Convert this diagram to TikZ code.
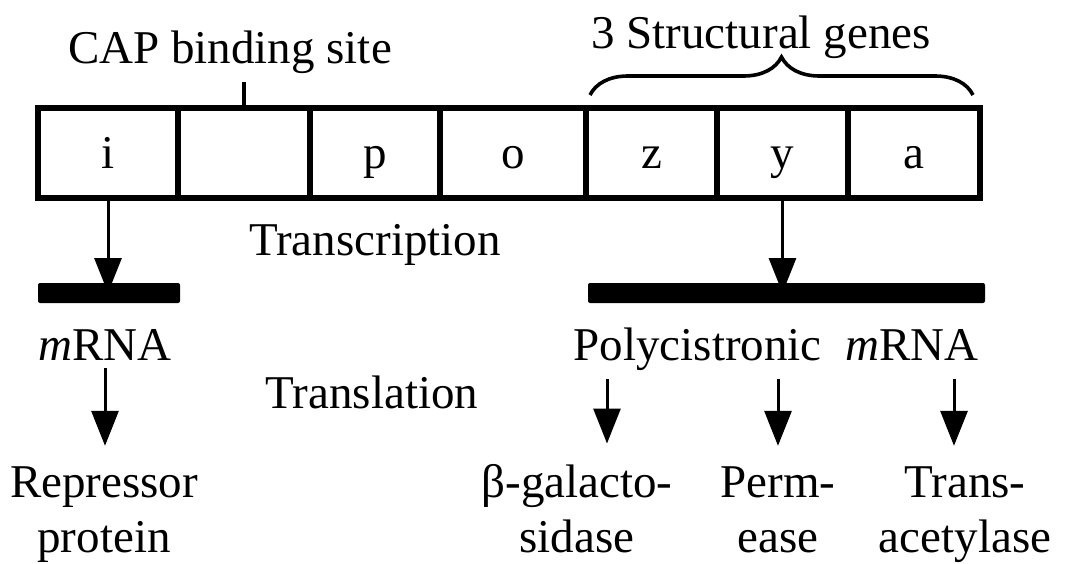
\documentclass[tikz,border=0pt]{standalone}
\usepackage{fontspec}
\setmainfont{Liberation Serif}
\usetikzlibrary{arrows.meta,decorations.pathreplacing}

\begin{document}
\begin{tikzpicture}[x=0.5pt,y=-0.5pt,
  font=\fontsize{23.5}{27.5}\selectfont,
  genebox/.style={draw,line width=3pt,minimum height=45pt,text height=18pt,text depth=3pt,inner sep=0pt},
  rnabar/.style={fill,minimum height=10pt,inner sep=0pt,rounded corners=1pt},
  lbl/.style={inner sep=4pt,align=center,anchor=base},
  arr/.style={line width=1.5pt,-{Triangle[width=13.5pt,length=17.5pt]}}]
\useasboundingbox (0,0) rectangle (1067,563);

\foreach \l/\r/\t/\n in {38/178/i/gi,178/310//gcap,310/440/p/gp,440/586/o/go,586/717/z/gz,717/848/y/gy,848/980/a/ga}{
  \pgfmathsetmacro\w{(\r-\l)/2}
  \node[genebox,minimum width=\w pt] (\n) at ({(\l+\r)/2},153) {\t};
}

\node[lbl] (cap) at (230,63) {CAP binding site};
\draw[line width=2pt] (gcap.north) -- (gcap.north |- cap.south);

\node[lbl] (genes) at (761,48) {3 Structural genes};
\coordinate (bl) at ([shift={(7,-10)}]gz.north west);
\coordinate (br) at ([shift={(-10,-10)}]ga.north east);
\draw[line width=1.8pt,decorate,decoration={brace,amplitude=19pt}] (bl) -- (br);

\node[lbl] (transc) at (375,255) {Transcription};
\node[rnabar,minimum width=71pt] (barL) at (109,293) {};
\node[rnabar,minimum width=198.5pt] (barR) at (786.5,293) {};
\draw[arr] (gi.south) -- (gi.south |- barL.center);
\draw[arr] (gy.south) -- (gy.south |- barR.center);

\node[lbl] (mrna) at (105,360) {\textit{m}RNA};
\node[lbl] (poly) at (776,360) {Polycistronic\ \ \textit{m}RNA};
\node[lbl] (transl) at (372,408) {Translation};

\node[lbl] (rep) at (104,552) {Repressor\\protein};
\node[lbl] (gal) at (577,552) {β-galacto-\\sidase};
\node[lbl] (perm) at (778,552) {Perm-\\ease};
\node[lbl] (trans) at (965,552) {Trans-\\acetylase};

\coordinate (galin) at ([xshift=15pt]gal.north);
\coordinate (transin) at ([xshift=-5.5pt]trans.north);
\draw[arr,shorten >=6pt] (mrna.south) -- (mrna.south |- rep.north);
\draw[arr,shorten >=6pt] (galin |- poly.south) -- (galin);
\draw[arr,shorten >=6pt] (perm.north |- poly.south) -- (perm.north);
\draw[arr,shorten >=6pt] (transin |- poly.south) -- (transin);
\end{tikzpicture}
\end{document}
